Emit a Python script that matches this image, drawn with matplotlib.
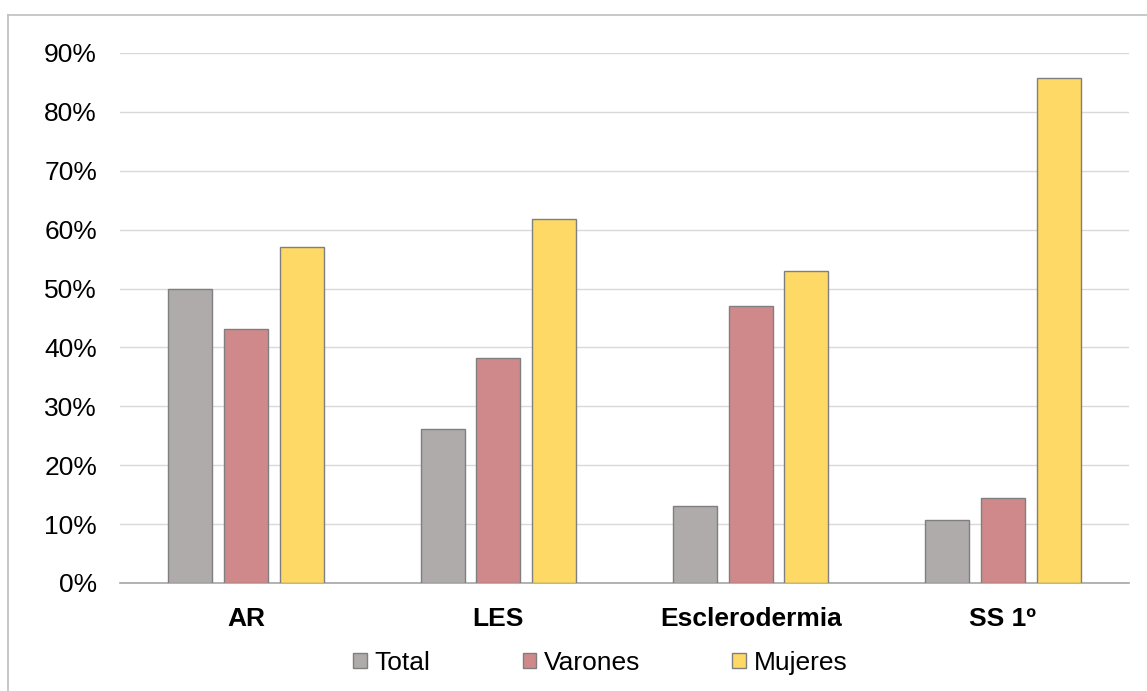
import numpy as np
import matplotlib.pyplot as plt
from matplotlib.lines import Line2D
from matplotlib.ticker import PercentFormatter

plt.rcParams['font.family'] = ['Liberation Sans', 'DejaVu Sans']

categories = ['AR', 'LES', 'Esclerodermia', 'SS 1º']
series = ['Total', 'Varones', 'Mujeres']
total = [0.50, 0.261, 0.131, 0.107]
varones = [0.431, 0.382, 0.470, 0.144]
mujeres = [0.570, 0.618, 0.530, 0.857]
colors = ['#AFABAB', '#D0898A', '#FED966']

W, H = 1147, 691
fig = plt.figure(figsize=(W / 100, H / 100), dpi=100)
ax = fig.add_axes([120 / W, 1 - 583 / H, (1129 - 120) / W, (583 - 53) / H])

x = np.arange(len(categories))
width = 0.174
offset = 0.221
for i, (name, vals, col) in enumerate(zip(series, [total, varones, mujeres], colors)):
    ax.bar(x + (i - 1) * offset, vals, width, color=col, edgecolor='#7F7F7F',
           linewidth=1.0, label=name, zorder=3)

ax.set_xlim(-0.5, len(categories) - 0.5)
ax.set_ylim(0, 0.9)
ax.set_yticks(np.arange(0, 0.91, 0.1))
ax.yaxis.set_major_formatter(PercentFormatter(1.0, decimals=0))
ax.grid(axis='y', color='#D9D9D9', linewidth=1.0, zorder=0)
ax.set_axisbelow(True)

for s in ['top', 'right', 'left']:
    ax.spines[s].set_visible(False)
ax.spines['bottom'].set_color('#A6A6A6')
ax.spines['bottom'].set_linewidth(1.2)

ax.tick_params(axis='y', length=0, pad=16.5, labelsize=19, labelcolor='#000000')
ax.tick_params(axis='x', length=0, pad=17, labelsize=19)
ax.set_xticks(x)
ax.set_xticklabels(categories, fontweight='bold')

ax.legend(loc='center', bbox_to_anchor=(0.476, (663 - 583) / -530), ncol=3, frameon=False,
          fontsize=19, handlelength=0.52, handleheight=0.52, handletextpad=0.28,
          columnspacing=3.5, borderaxespad=0)

# outer frame, only top and left edges visible
fig.add_artist(Line2D([8 / W, 1], [1 - 15 / H, 1 - 15 / H], color='#BFBFBF', linewidth=1.2))
fig.add_artist(Line2D([8 / W, 8 / W], [0, 1 - 15 / H], color='#BFBFBF', linewidth=1.2))

fig.savefig('out.png', dpi=100)
